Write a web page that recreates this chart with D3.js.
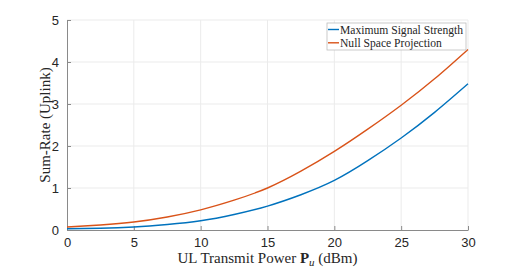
<!DOCTYPE html>
<html lang="en">
<head>
  <meta charset="UTF-8">
  <title>Sum-Rate vs UL Transmit Power</title>
  <script src="https://d3js.org/d3.v7.min.js"></script>
  <style>
    body { margin: 0; background: #fff; }
    .tick text { font-family: "Liberation Sans", Arial, sans-serif; font-size: 13px; fill: #262626; }
    .label { font-family: "Liberation Serif", "Times New Roman", serif; fill: #262626; }
  </style>
</head>
<body>
  <div id="chart"></div>

  <script>
    // values
    const power = [0, 2.5, 5, 7.5, 10, 12.5, 15, 17.5, 20, 22.5, 25, 27.5, 30];
    const maxSignal = [0.03, 0.04, 0.07, 0.13, 0.22, 0.37, 0.57, 0.84, 1.18, 1.65, 2.19, 2.80, 3.48];
    const nullSpace = [0.07, 0.12, 0.19, 0.31, 0.48, 0.71, 1.00, 1.40, 1.87, 2.40, 2.97, 3.60, 4.30];
    const xTicks = [0, 5, 10, 15, 20, 25, 30];
    const yTicks = [0, 1, 2, 3, 4, 5];
    const seriesNames = ["Maximum Signal Strength", "Null Space Projection"];
    const colors = ["#0072BD", "#D95319"];

    const W = 518, H = 268;
    const margin = { top: 20, right: 50, bottom: 38, left: 67 };
    const width = W - margin.left - margin.right;
    const height = H - margin.top - margin.bottom;

    const svg = d3.select("#chart")
      .append("svg")
      .attr("width", W)
      .attr("height", H);

    const g = svg.append("g")
      .attr("transform", "translate(" + margin.left + "," + margin.top + ")");

    const x = d3.scaleLinear().domain([0, 30]).range([0, width]);
    const y = d3.scaleLinear().domain([0, 5]).range([height, 0]);

    // grid
    g.append("g").selectAll("line").data(xTicks.slice(1)).enter().append("line")
      .attr("x1", d => x(d)).attr("x2", d => x(d))
      .attr("y1", 0).attr("y2", height)
      .attr("stroke", "#ebebeb").attr("stroke-width", 1);
    g.append("g").selectAll("line").data(yTicks.slice(1)).enter().append("line")
      .attr("x1", 0).attr("x2", width)
      .attr("y1", d => y(d)).attr("y2", d => y(d))
      .attr("stroke", "#ebebeb").attr("stroke-width", 1);

    // axes (MATLAB style: inward ticks)
    const xAxis = g.append("g")
      .attr("transform", "translate(0," + height + ")")
      .call(d3.axisBottom(x).tickValues(xTicks).tickFormat(d3.format("d"))
        .tickSizeInner(-4).tickSizeOuter(0).tickPadding(8));
    const yAxis = g.append("g")
      .call(d3.axisLeft(y).tickValues(yTicks).tickFormat(d3.format("d"))
        .tickSizeInner(-4).tickSizeOuter(0).tickPadding(8));
    [xAxis, yAxis].forEach(a => {
      a.select(".domain").attr("stroke", "#8a8a8a");
      a.selectAll(".tick line").attr("stroke", "#8a8a8a");
    });

    // lines
    const series = [maxSignal, nullSpace];
    const line = d3.line()
      .x((d, i) => x(power[i]))
      .y(d => y(d))
      .curve(d3.curveNatural);
    series.forEach((s, k) => {
      g.append("path")
        .datum(s)
        .attr("fill", "none")
        .attr("stroke", colors[k])
        .attr("stroke-width", 1.4)
        .attr("d", line);
    });

    // axis labels
    const xl = svg.append("text")
      .attr("class", "label")
      .attr("x", margin.left + width / 2)
      .attr("y", 263)
      .attr("text-anchor", "middle")
      .style("font-size", "15px");
    xl.append("tspan").text("UL Transmit Power ");
    xl.append("tspan").attr("font-weight", "bold").text("P");
    xl.append("tspan").attr("font-style", "italic").attr("font-size", "11px").attr("dy", 3).text("u");
    xl.append("tspan").attr("dy", -3).text(" (dBm)");

    svg.append("text")
      .attr("class", "label")
      .attr("transform", "translate(50," + (margin.top + height / 2) + ") rotate(-90)")
      .attr("text-anchor", "middle")
      .style("font-size", "15px")
      .text("Sum-Rate (Uplink)");

    // legend
    const lg = svg.append("g").attr("transform", "translate(327,23)");
    lg.append("rect")
      .attr("width", 139).attr("height", 27)
      .attr("fill", "#fff").attr("stroke", "#bdbdbd").attr("stroke-width", 0.8);
    seriesNames.forEach((name, k) => {
      const yy = 6.5 + k * 13.3;
      lg.append("line")
        .attr("x1", 1).attr("x2", 12).attr("y1", yy).attr("y2", yy)
        .attr("stroke", colors[k]).attr("stroke-width", 1.4);
      lg.append("text")
        .attr("class", "label")
        .attr("x", 13).attr("y", yy + 4)
        .style("font-size", "11.6px")
        .text(name);
    });
  </script>
</body>
</html>
